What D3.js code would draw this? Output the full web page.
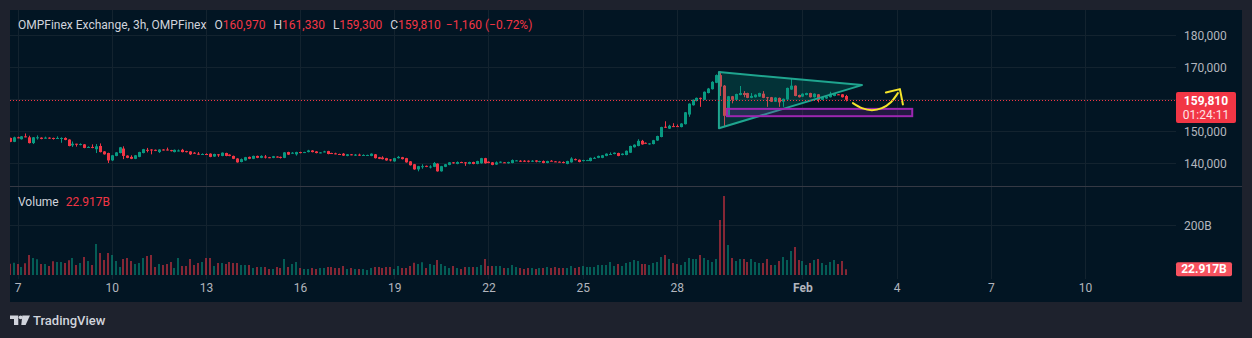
<!DOCTYPE html>
<html><head><meta charset="utf-8">
<script src="https://cdn.jsdelivr.net/npm/d3@7"></script>
<style>
html,body{margin:0;padding:0;background:#1e222d;overflow:hidden;}
svg{display:block;font-family:Roboto,"Noto Sans",sans-serif;}
</style></head><body>
<svg id="c" width="1252" height="338"></svg>
<script>
// ---------- DATA (prices in thousands, volume in billions) ----------
const firstBar = "2025-01-06T18:00:00";
const barHours = 3;
const open = [147.9,146.7,148.1,147.5,148.4,148.1,146.3,148.0,148.0,147.9,148.0,147.9,147.7,147.8,147.9,147.4,145.6,146.1,145.9,145.9,145.0,145.1,144.4,145.4,143.7,143.2,140.9,142.3,143.2,144.6,142.4,142.0,141.4,142.0,143.2,144.2,144.3,144.2,143.5,144.3,144.3,144.1,143.5,143.9,144.2,143.8,143.7,143.3,143.0,142.8,142.9,143.0,142.1,142.8,142.3,143.2,142.7,142.3,141.5,140.4,140.9,142.0,141.4,142.3,141.7,142.1,141.9,141.7,142.1,142.0,141.7,143.5,143.2,142.8,143.5,143.3,143.5,144.0,143.7,143.2,143.5,143.8,143.2,143.1,142.9,143.0,142.3,142.8,142.4,142.7,142.4,142.5,142.3,142.8,141.9,141.8,141.6,141.2,140.6,141.6,141.9,141.6,140.6,139.7,138.1,139.0,139.2,138.9,138.9,139.9,137.5,138.9,139.5,140.3,139.8,140.4,140.3,139.8,140.4,139.8,140.0,141.6,140.5,140.3,139.6,140.2,140.3,140.0,140.1,140.8,140.8,140.8,140.8,140.5,140.9,140.4,140.7,140.1,140.8,140.6,140.5,140.4,139.8,140.3,141.3,141.1,140.7,140.9,140.7,141.6,141.7,141.7,142.3,142.8,142.9,143.2,142.6,142.6,143.3,145.0,145.4,147.0,146.4,146.0,146.0,147.1,148.2,151.4,150.8,151.6,151.6,151.3,152.2,155.2,158.1,159.4,160.4,159.8,161.9,163.1,165.1,167.5,164.2,154.8,160.9,159.8,161.3,161.9,161.9,160.4,160.6,160.8,161.7,160.6,160.6,159.2,160.4,159.2,159.9,163.0,164.2,161.3,160.8,161.3,161.9,160.6,161.5,159.8,160.2,160.6,161.0,161.5,161.5,160.97];
const high = [148.0,148.3,148.3,148.5,149.3,148.6,148.2,148.7,148.1,148.3,148.1,148.0,148.4,148.1,148.1,147.5,146.8,146.1,146.2,146.0,145.3,145.9,146.0,146.2,143.8,143.3,142.6,143.5,145.1,145.3,142.5,142.5,142.6,143.6,144.5,144.8,144.4,144.3,144.4,144.4,144.9,144.2,144.3,144.3,144.5,143.9,143.8,143.5,143.5,143.1,143.1,143.1,143.0,142.9,143.4,143.3,142.8,142.4,141.6,141.5,142.0,142.1,142.4,142.4,142.5,142.6,142.0,142.3,142.2,142.1,143.5,143.6,143.5,143.6,143.6,143.6,144.2,144.1,143.8,143.5,143.9,143.9,143.3,143.3,143.0,143.2,142.9,142.9,142.9,143.0,142.8,142.7,143.1,142.9,142.0,142.2,141.7,141.3,141.7,142.3,142.0,141.7,140.7,139.8,139.2,139.7,139.3,139.4,140.4,140.0,139.2,139.8,140.4,140.4,140.6,140.5,140.4,140.5,140.5,140.8,141.7,141.7,140.6,140.4,140.6,140.6,140.4,140.5,141.2,141.0,141.0,141.0,140.9,141.0,141.0,140.8,140.9,140.8,141.0,140.7,140.6,140.6,140.8,141.9,141.5,141.2,141.1,141.1,141.8,142.0,142.4,142.6,143.1,143.4,143.4,143.3,143.1,144.0,145.5,145.9,147.5,147.3,146.5,146.3,147.3,148.6,151.4,153.1,152.0,152.5,152.1,152.5,156.0,158.7,159.9,160.5,160.5,162.4,163.5,165.6,167.7,168.6,164.4,161.0,161.0,161.7,164.1,162.5,162.0,161.9,161.5,162.0,162.5,160.7,160.7,160.6,160.5,160.2,163.6,166.3,164.3,161.4,161.8,162.0,162.0,161.8,161.6,160.8,160.9,162.3,161.9,161.6,161.6,161.33];
const low = [146.6,146.6,147.8,147.4,148.1,146.2,146.0,147.4,147.5,147.7,147.6,147.4,147.6,146.4,147.2,145.3,145.1,145.2,145.6,144.7,144.9,144.7,143.2,143.4,142.7,140.1,140.7,142.2,143.1,141.3,141.6,141.3,141.3,141.9,143.1,143.4,142.8,143.8,143.2,144.0,144.0,143.7,143.4,143.7,143.4,143.4,142.6,143.0,142.6,142.7,142.6,141.9,142.0,142.0,142.2,142.2,142.2,141.3,140.2,140.3,140.8,141.3,141.3,141.6,141.6,141.5,141.6,141.6,141.8,141.5,141.6,142.6,143.0,142.4,143.1,143.2,143.4,143.4,143.1,143.1,143.4,142.8,142.9,142.8,142.7,142.3,142.2,142.5,142.3,142.3,142.3,142.4,142.2,141.5,141.3,141.2,140.8,140.6,140.5,141.5,141.2,140.2,139.3,138.0,137.5,138.3,138.8,138.4,138.8,137.4,137.4,138.8,139.4,139.9,139.7,140.1,139.2,139.7,139.7,139.7,139.9,139.9,140.0,139.4,139.5,140.1,140.1,139.9,140.0,140.7,140.4,140.4,140.3,140.4,140.3,140.3,140.0,140.0,140.6,140.4,140.3,140.0,139.7,140.2,140.9,140.3,140.6,140.8,140.6,141.5,141.6,141.6,142.2,142.7,142.8,142.2,142.5,142.5,143.2,144.9,145.3,145.8,146.1,145.8,145.9,147.0,148.1,151.0,150.7,151.3,151.4,151.2,152.1,154.5,158.0,159.3,157.6,159.7,161.8,163.0,165.0,161.0,151.4,154.7,158.7,159.7,161.2,160.6,160.3,160.3,160.5,160.7,160.3,157.6,159.1,159.1,157.6,157.6,159.8,162.9,160.9,160.5,160.7,161.2,160.5,160.5,159.0,159.7,160.1,160.5,160.9,161.3,160.5,159.30];
const close = [146.7,148.1,148.0,148.4,148.2,146.3,148.1,148.1,147.6,148.0,147.9,147.7,147.9,147.9,147.3,145.4,146.1,145.9,146.0,144.8,145.1,144.8,145.3,143.5,142.8,140.9,142.5,143.4,145.0,142.3,141.7,141.4,142.5,143.5,144.4,144.1,144.1,143.9,144.3,144.1,144.1,143.8,144.2,144.0,143.5,143.5,142.8,143.2,142.7,142.9,142.8,142.0,142.9,142.5,143.3,142.3,142.3,141.4,140.3,141.3,141.9,141.4,142.3,141.7,142.3,141.9,141.7,142.2,141.9,141.7,143.4,142.7,143.3,143.5,143.2,143.5,144.0,143.5,143.2,143.4,143.7,142.9,143.0,143.0,142.8,142.4,142.8,142.6,142.7,142.4,142.6,142.6,143.0,141.6,141.4,141.3,140.9,140.9,141.6,142.0,141.3,140.3,139.4,138.1,139.1,139.1,138.9,139.0,140.1,137.5,139.1,139.7,140.3,140.0,140.4,140.2,140.2,140.4,139.8,140.7,141.6,140.0,140.1,139.5,140.3,140.5,140.2,140.4,141.0,140.9,140.5,140.5,140.5,140.8,140.5,140.7,140.1,140.7,140.7,140.5,140.4,140.1,140.7,141.5,141.0,140.4,141.0,141.0,141.7,141.7,142.3,142.5,143.0,142.9,143.3,142.3,143.0,143.9,145.4,145.8,147.0,145.9,146.2,146.2,147.2,148.5,151.3,151.1,151.7,151.4,151.5,152.4,155.9,158.6,159.8,160.4,160.1,162.3,163.3,165.4,167.5,163.9,154.8,160.9,159.8,161.6,161.9,161.3,160.4,161.0,161.4,161.9,160.4,160.5,159.2,160.5,159.0,160.1,163.5,164.2,161.0,160.6,161.7,161.9,160.6,161.7,159.8,160.7,160.8,161.7,161.8,161.4,160.6,159.81];
const volume = [45,49,44,32,47,80,68,63,44,44,36,55,52,52,48,59,68,40,48,72,56,40,124,88,60,88,80,56,32,64,68,56,44,48,68,76,80,32,44,40,44,52,28,68,36,36,64,40,48,52,68,68,36,48,48,44,52,48,48,40,40,40,28,32,32,32,24,24,32,28,64,32,44,52,28,24,24,28,24,28,28,32,32,28,28,36,24,28,24,24,24,20,28,32,32,28,32,32,24,36,28,28,36,49,44,51,28,44,40,60,44,36,28,36,28,24,32,32,32,32,40,64,36,36,36,36,28,28,40,32,28,24,28,28,24,28,28,32,28,32,28,28,28,36,28,32,36,32,32,32,40,40,40,52,36,44,36,48,52,60,56,44,44,40,48,52,72,80,64,48,44,40,52,68,64,64,80,68,60,52,64,220,316,120,68,56,64,64,52,64,52,48,48,64,40,40,56,72,60,96,112,60,56,40,48,60,64,48,40,52,60,44,56,22.917];

const xTickDates = ["2025-01-07","2025-01-10","2025-01-13","2025-01-16","2025-01-19","2025-01-22","2025-01-25","2025-01-28","2025-02-01","2025-02-04","2025-02-07","2025-02-10"];
const xTickLabels = ["7","10","13","16","19","22","25","28","Feb","4","7","10"];
const priceTicks = [140000,150000,160000,170000,180000];
const volumeTicks = [200];

const headerTitle = "OMPFinex Exchange, 3h, OMPFinex";
const legendItems = [["O","160,970"],["H","161,330"],["L","159,300"],["C","159,810"]];
const legendChange = "−1,160 (−0.72%)";
const lastPrice = 159810;
const countdown = "01:24:11";
const lastVolumeLabel = "22.917B";

// drawings (time, price)
const triangle = [["2025-01-29T08:10",168440],["2025-02-02T21:29",164380],["2025-01-29T08:10",150940]];
const zone = [["2025-01-29T14:18",156970],["2025-02-04T11:56",154690]];
const curve = [["2025-02-02T14:36",158750],["2025-02-02T21:29",157190],["2025-02-03T05:07",156560],["2025-02-03T12:43",157190],["2025-02-03T19:37",159060],["2025-02-04T00:58",161880]];
const arrowHead = [["2025-02-03T15:48",162090],["2025-02-04T02:31",163130],["2025-02-04T04:48",158340]];

// ---------- CHART ----------
const UP = "#089981", DOWN = "#f23645";
const svg = d3.select("#c");
const panelL = 10, panelT = 10, panelR = 1242, panelB = 302;
const chartR = 1176, sepY = 186, axisX = 1184;

svg.append("rect").attr("x",0).attr("y",0).attr("width",1252).attr("height",338).attr("fill","#1e222d");
svg.append("rect").attr("x",panelL).attr("y",panelT).attr("width",panelR-panelL).attr("height",panelB-panelT).attr("fill","#021523");

const x = d3.scaleTime().domain([new Date(2025,0,7), new Date(2025,1,10)]).range([17.5,1085]);
const yP = d3.scaleLinear().domain([140000,180000]).range([163.3,35]);
const yV = d3.scaleLinear().domain([0,200]).range([275,225]);

const t0 = new Date(firstBar);
const bars = open.map((o,i)=>({t:d3.timeHour.offset(t0,barHours*i),o:o*1000,h:high[i]*1000,l:low[i]*1000,c:close[i]*1000,v:volume[i]}));

// grid
const grid = svg.append("g").attr("stroke","#13232f").attr("stroke-width",1);
xTickDates.forEach(d=>{
  const px = Math.round(x(new Date(d+"T00:00:00")))+0.5;
  grid.append("line").attr("x1",px).attr("x2",px).attr("y1",panelT).attr("y2",279);
});
priceTicks.forEach(p=>{
  const py = Math.round(yP(p))+0.5;
  grid.append("line").attr("x1",panelL).attr("x2",chartR).attr("y1",py).attr("y2",py);
});
volumeTicks.forEach(v=>{
  const py = Math.round(yV(v))+0.5;
  grid.append("line").attr("x1",panelL).attr("x2",chartR).attr("y1",py).attr("y2",py);
});

// pane separator
svg.append("line").attr("x1",panelL).attr("x2",panelR).attr("y1",sepY+0.5).attr("y2",sepY+0.5).attr("stroke","#353944");

const defs = svg.append("defs");
defs.append("clipPath").attr("id","cp").append("rect").attr("x",panelL).attr("y",panelT).attr("width",chartR-panelL).attr("height",sepY-panelT);
defs.append("clipPath").attr("id","cv").append("rect").attr("x",panelL).attr("y",sepY+1).attr("width",chartR-panelL).attr("height",100);

// volume
svg.append("g").attr("clip-path","url(#cv)").selectAll("rect").data(bars).join("rect")
  .attr("x",d=>Math.round(x(d.t))-1).attr("width",2)
  .attr("y",d=>yV(d.v)).attr("height",d=>yV(0)-yV(d.v))
  .attr("fill",d=>d.c>=d.o?"rgba(8,153,129,0.55)":"rgba(242,54,69,0.55)");

// candles
const cg = svg.append("g").attr("clip-path","url(#cp)");
cg.selectAll("rect.w").data(bars).join("rect").attr("class","w")
  .attr("x",d=>Math.round(x(d.t))).attr("width",1)
  .attr("y",d=>yP(d.h)).attr("height",d=>Math.max(1,yP(d.l)-yP(d.h)))
  .attr("fill",d=>d.c>=d.o?UP:DOWN);
cg.selectAll("rect.b").data(bars).join("rect").attr("class","b")
  .attr("x",d=>Math.round(x(d.t))-1).attr("width",3)
  .attr("y",d=>Math.min(yP(d.o),yP(d.c))).attr("height",d=>Math.max(1,Math.abs(yP(d.o)-yP(d.c))))
  .attr("fill",d=>d.c>=d.o?UP:DOWN);

// drawings
const dg = svg.append("g").attr("clip-path","url(#cp)");
const P = a=>[x(new Date(a[0])),yP(a[1])];
dg.append("path").attr("d","M"+triangle.map(P).map(p=>p.join(",")).join("L")+"Z")
  .attr("fill","rgba(8,153,129,0.22)").attr("stroke","#1fa58f").attr("stroke-width",2).attr("stroke-linejoin","round");
const z0 = P(zone[0]), z1 = P(zone[1]);
dg.append("rect").attr("x",z0[0]).attr("y",z0[1]).attr("width",z1[0]-z0[0]).attr("height",z1[1]-z0[1])
  .attr("fill","rgba(156,39,176,0.22)").attr("stroke","#9c27b0").attr("stroke-width",2);
dg.append("path").attr("d",d3.line().curve(d3.curveCatmullRom)(curve.map(P)))
  .attr("fill","none").attr("stroke","#f5e52a").attr("stroke-width",2).attr("stroke-linecap","round");
dg.append("path").attr("d",d3.line()(arrowHead.map(P)))
  .attr("fill","none").attr("stroke","#f5e52a").attr("stroke-width",2).attr("stroke-linecap","round").attr("stroke-linejoin","round");

// last price line
const lpY = Math.round(yP(lastPrice))+0.5;
svg.append("line").attr("x1",panelL).attr("x2",chartR).attr("y1",lpY).attr("y2",lpY)
  .attr("stroke",DOWN).attr("stroke-width",1).attr("stroke-dasharray","1 2");

// price axis
const pa = svg.append("g").attr("transform",`translate(${axisX},0)`)
  .call(d3.axisRight(yP).tickValues(priceTicks).tickFormat(d3.format(",")).tickSize(0).tickPadding(0));
pa.select(".domain").remove();
pa.selectAll("text").attr("fill","#b2b5be").attr("font-size",12).attr("font-family","Roboto").attr("dy","0.35em");
const va = svg.append("g").attr("transform",`translate(${axisX},0)`)
  .call(d3.axisRight(yV).tickValues(volumeTicks).tickFormat(d=>d+"B").tickSize(0).tickPadding(0));
va.select(".domain").remove();
va.selectAll("text").attr("fill","#b2b5be").attr("font-size",12).attr("font-family","Roboto").attr("dy","0.35em");

// time axis
const ta = svg.append("g").attr("transform","translate(0,288)")
  .call(d3.axisBottom(x).tickValues(xTickDates.map(d=>new Date(d+"T00:00:00"))).tickFormat((d,i)=>xTickLabels[i]).tickSize(0).tickPadding(0));
ta.select(".domain").remove();
ta.selectAll("text").attr("fill","#b2b5be").attr("font-size",12).attr("font-family","Roboto").attr("y",0).attr("dy","0.35em")
  .attr("font-weight",(d,i)=>xTickLabels[i]==="Feb"?"bold":"normal");

// price label box
svg.append("rect").attr("x",chartR).attr("y",lpY-8.5).attr("width",60).attr("height",31).attr("rx",2).attr("fill",DOWN);
svg.append("text").attr("x",chartR+30).attr("y",lpY).attr("dy","0.35em").attr("text-anchor","middle")
  .attr("fill","#fff").attr("font-size",12).attr("font-weight","bold").text(d3.format(",")(lastPrice));
svg.append("text").attr("x",chartR+30).attr("y",lpY+14.5).attr("dy","0.35em").attr("text-anchor","middle")
  .attr("fill","#fde3e5").attr("font-size",12).text(countdown);

// volume label box
const lvY = yV(volume[volume.length-1]);
svg.append("rect").attr("x",chartR).attr("y",lvY-7).attr("width",56).attr("height",14).attr("rx",2).attr("fill","#f7525f");
svg.append("text").attr("x",chartR+28).attr("y",lvY).attr("dy","0.35em").attr("text-anchor","middle")
  .attr("fill","#fff").attr("font-size",12).attr("font-weight","bold").text(lastVolumeLabel);

// legend header
const hy = 24.5;
const ht = svg.append("text").attr("x",18).attr("y",hy).attr("dy","0.35em").attr("font-size",12).attr("fill","#d1d4dc");
ht.append("tspan").text(headerTitle);
legendItems.forEach(([k,v])=>{
  ht.append("tspan").attr("dx",8).attr("fill","#d1d4dc").text(k);
  ht.append("tspan").attr("fill",DOWN).text(v);
});
ht.append("tspan").attr("dx",5).attr("fill",DOWN).text(legendChange);

// volume legend
const vt = svg.append("text").attr("x",18).attr("y",201.5).attr("dy","0.35em").attr("font-size",12).attr("fill","#d1d4dc");
vt.append("tspan").text("Volume");
vt.append("tspan").attr("dx",7).attr("fill",DOWN).text(lastVolumeLabel);

// TradingView logo
const logo = svg.append("g").attr("fill","#d1d4dc");
logo.append("path").attr("d","M10,315.5H18.3V325H14V319H10Z");
logo.append("circle").attr("cx",20.6).attr("cy",317.3).attr("r",1.9);
logo.append("path").attr("d","M22.3,315.5H30L25.6,325H21.3Z");
svg.append("text").attr("x",33).attr("y",320.5).attr("dy","0.35em").attr("font-size",13).attr("font-weight",500).attr("fill","#d1d4dc").text("TradingView");
</script>
</body></html>
